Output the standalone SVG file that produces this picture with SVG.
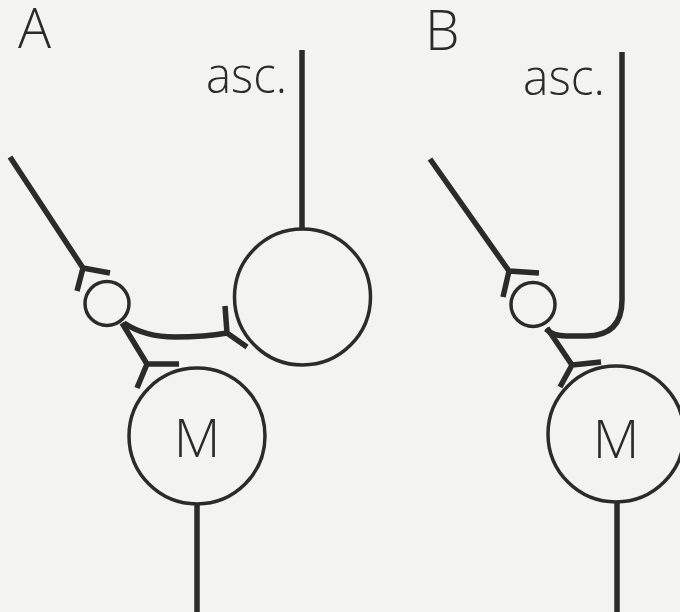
<svg xmlns="http://www.w3.org/2000/svg" width="680" height="612" viewBox="0 0 680 612">
<style>
.bg{fill:#f3f3f1}
.cell{fill:none;stroke:#2b2b2b;stroke-width:3.5}
.fib{fill:none;stroke:#2b2b2b;stroke-width:5.5;stroke-linecap:butt;stroke-linejoin:round}
.lbl{font-family:"Open Sans","Liberation Sans",sans-serif;font-weight:300;fill:#2b2b2b}
</style>
<rect class="bg" x="0" y="0" width="680" height="612"/>
<text class="lbl" x="18" y="48" font-size="55">A</text>
<text class="lbl" x="425" y="50" font-size="55">B</text>
<g id="panelA">
  <g id="A-asc-label"><text class="lbl" x="206" y="93" font-size="50" textLength="81" lengthAdjust="spacingAndGlyphs">asc.</text></g>
  <g id="A-big"><circle class="cell" cx="302.5" cy="297" r="68"/></g>
  <g id="A-inter"><circle class="cell" cx="107" cy="303.5" r="22"/></g>
  <g id="A-motor"><circle class="cell" cx="197" cy="436" r="68"/>
    <text class="lbl" x="197" y="457" font-size="54" text-anchor="middle">M</text></g>
  <g id="A-connectors">
    <path class="fib" d="M302 50 V229"/>
    <path class="fib" d="M10 157 L83 268 M110 273 L83 268 L77 291"/>
    <path class="fib" d="M122 323 L147 364 M179 364 L147 364 L137 388"/>
    <path class="fib" d="M124 323 Q145 337 175 337 Q205 337 227 333 M225 306 L227 333 L247 347"/>
    <path class="fib" d="M197 503 V612"/>
  </g>
</g>
<g id="panelB">
  <g id="B-asc-label"><text class="lbl" x="523" y="95" font-size="50" textLength="82" lengthAdjust="spacingAndGlyphs">asc.</text></g>
  <g id="B-inter"><circle class="cell" cx="533" cy="304.5" r="22"/></g>
  <g id="B-motor"><circle class="cell" cx="616" cy="434" r="68"/>
    <text class="lbl" x="616" y="458" font-size="54" text-anchor="middle">M</text></g>
  <g id="B-connectors">
    <path class="fib" d="M622 52 V300 Q622 336 586 336 L566 336 Q553 336 546 329"/>
    <path class="fib" d="M430 159 L509 271 M539 273 L509 271 L503 297"/>
    <path class="fib" d="M547 328 L572 365 M601 362 L572 365 L560 387"/>
    <path class="fib" d="M617 502 V612"/>
  </g>
</g>
</svg>
